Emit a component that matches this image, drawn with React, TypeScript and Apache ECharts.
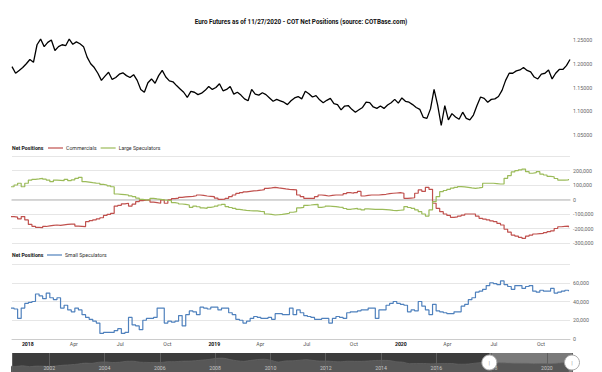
import React, { useEffect, useRef } from "react";
import * as echarts from "echarts";

const TITLE = "Euro Futures as of 11/27/2020 - COT Net Positions (source: COTBase.com)";
const MONTHS = ["Jan", "Feb", "Mar", "Apr", "May", "Jun", "Jul", "Aug", "Sep", "Oct", "Nov", "Dec"];
const FONT = 'Roboto, "Liberation Sans", sans-serif';

// visible window and navigator range [year, monthIndex, day]
const VIEW_START = [2017, 11, 1];
const VIEW_END = [2020, 10, 27];
const NAV_RANGE_START = [2000, 7, 27];
const NAV_RANGE_END = [2020, 10, 27];

// first dates of the series
const PRICE_START = [2017, 11, 1]; // weekly (Fridays)
const COT_START = [2017, 10, 28]; // weekly (Tuesdays, report dates)
const NAV_HISTORY_START = [2000, 6, 15]; // quarterly

// Euro futures price, weekly
const euroFuturesPrice = [
  1.194, 1.180, 1.186, 1.192, 1.200, 1.209, 1.203, 1.240, 1.252, 1.236,
  1.245, 1.250, 1.228, 1.236, 1.240, 1.238, 1.252, 1.241, 1.246, 1.242,
  1.236, 1.214, 1.200, 1.192, 1.180, 1.165, 1.174, 1.182, 1.167, 1.171,
  1.178, 1.181, 1.175, 1.171, 1.177, 1.165, 1.146, 1.140, 1.160, 1.168,
  1.159, 1.175, 1.186, 1.172, 1.164, 1.162, 1.154, 1.147, 1.140, 1.129,
  1.142, 1.140, 1.135, 1.138, 1.144, 1.152, 1.146, 1.150, 1.158, 1.143,
  1.146, 1.152, 1.136, 1.140, 1.134, 1.126, 1.122, 1.146, 1.136, 1.134,
  1.139, 1.135, 1.128, 1.121, 1.125, 1.122, 1.119, 1.114, 1.122, 1.128,
  1.131, 1.126, 1.142, 1.137, 1.130, 1.133, 1.124, 1.118, 1.123, 1.127,
  1.116, 1.114, 1.103, 1.111, 1.112, 1.104, 1.098, 1.103, 1.108, 1.119,
  1.118, 1.109, 1.106, 1.111, 1.106, 1.113, 1.118, 1.125, 1.117, 1.128,
  1.121, 1.119, 1.114, 1.108, 1.104, 1.087, 1.085, 1.105, 1.146, 1.113,
  1.070, 1.112, 1.082, 1.095, 1.088, 1.083, 1.098, 1.085, 1.082, 1.092,
  1.112, 1.130, 1.127, 1.119, 1.125, 1.126, 1.131, 1.144, 1.165, 1.180,
  1.180, 1.185, 1.187, 1.192, 1.186, 1.183, 1.172, 1.168, 1.178, 1.180,
  1.187, 1.168, 1.180, 1.188, 1.188, 1.196, 1.209,
];

// COT net positions, thousands of contracts, weekly
const commercialsK = [
  -118, -122, -134, -118, -141, -172, -185, -192, -194, -186,
  -182, -178, -176, -178, -175, -172, -170, -169, -183, -185,
  -187, -153, -146, -140, -133, -126, -110, -102, -95, -45,
  -40, -30, -26, -45, -32, -15, -8, -5, -3, -18,
  -22, -26, -3, -26, -3, 6, 10, 15, 18, 20,
  22, 26, 31, 28, 24, 22, 20, 10, 1, 3,
  8, 20, 31, 42, 47, 52, 56, 59, 61, 64,
  68, 77, 80, 84, 80, 77, 73, 70, 68, 66,
  31, 20, 8, 8, 8, 20, 31, 28, 24, 28,
  31, 31, 31, 40, 47, 43, 48, 56, 24, 28,
  31, 31, 31, 34, 36, 40, 43, 45, 47, 43,
  8, 10, 12, 43, 66, 56, 84, 70, -26, -61,
  -84, -100, -110, -123, -120, -114, -108, -100, -100, -100,
  -115, -130, -135, -141, -148, -153, -165, -176, -205, -225,
  -245, -252, -261, -268, -252, -245, -238, -235, -233, -228,
  -222, -217, -200, -188, -185, -183, -192,
];

const largeSpeculatorsK = [
  88, 100, 112, 88, 112, 134, 139, 142, 146, 140,
  134, 123, 134, 132, 130, 139, 130, 136, 146, 153,
  123, 120, 116, 113, 112, 104, 100, 94, 88, 38,
  36, 34, 31, 25, 20, 10, 1, -2, -3, 8,
  4, 1, -3, -5, -8, -22, -26, -31, -34, -38,
  -54, -45, -50, -58, -61, -54, -50, -45, -38, -33,
  -49, -55, -61, -68, -72, -75, -77, -78, -79, -82,
  -84, -100, -103, -107, -105, -103, -99, -95, -88, -84,
  -58, -54, -40, -38, -35, -33, -54, -50, -45, -47,
  -49, -52, -54, -62, -68, -64, -61, -66, -72, -65,
  -66, -68, -68, -68, -70, -72, -75, -77, -74, -72,
  -49, -55, -61, -72, -84, -100, -114, -72, -15, 20,
  54, 62, 70, 78, 84, 89, 87, 84, 80, 77,
  80, 84, 112, 112, 112, 110, 107, 107, 146, 165,
  190, 199, 205, 210, 192, 181, 185, 192, 175, 169,
  160, 157, 145, 134, 134, 136, 141,
];

const smallSpeculatorsK = [
  33, 32, 22, 33, 38, 39, 40, 48, 46, 43,
  49, 44, 42, 44, 33, 36, 31, 29, 33, 31,
  26, 23, 21, 19, 17, 6, 7, 7, 7, 9,
  11, 6, 7, 23, 15, 14, 10, 20, 22, 22,
  23, 33, 33, 17, 19, 18, 19, 25, 14, 26,
  30, 29, 26, 34, 33, 32, 34, 34, 31, 33,
  33, 28, 26, 21, 20, 17, 19, 22, 24, 23,
  22, 22, 23, 21, 27, 27, 26, 26, 33, 26,
  31, 28, 25, 24, 23, 21, 21, 22, 22, 17,
  22, 24, 23, 22, 28, 29, 29, 30, 31, 31,
  33, 33, 22, 31, 31, 36, 38, 40, 38, 37,
  36, 29, 31, 30, 40, 35, 31, 26, 37, 30,
  29, 28, 27, 27, 29, 29, 35, 37, 42, 44,
  50, 51, 53, 57, 60, 59, 58, 62, 58, 56,
  53, 57, 57, 54, 56, 57, 51, 50, 52, 51,
  51, 54, 49, 50, 51, 52, 51,
];

// navigator: long-term euro history, quarterly (2000 Q3 .. 2020 Q4)
const euroQuarterlyHistory = [
  0.90, 0.87,
  0.93, 0.85, 0.90, 0.89,
  0.87, 0.92, 0.98, 1.01,
  1.07, 1.15, 1.13, 1.22,
  1.25, 1.20, 1.22, 1.30,
  1.31, 1.23, 1.21, 1.19,
  1.20, 1.27, 1.27, 1.31,
  1.32, 1.35, 1.41, 1.46,
  1.55, 1.57, 1.45, 1.35,
  1.30, 1.38, 1.45, 1.48,
  1.37, 1.24, 1.33, 1.34,
  1.39, 1.44, 1.38, 1.32,
  1.32, 1.28, 1.26, 1.31,
  1.30, 1.30, 1.33, 1.37,
  1.38, 1.37, 1.27, 1.23,
  1.10, 1.11, 1.12, 1.09,
  1.11, 1.12, 1.12, 1.06,
  1.06, 1.11, 1.18, 1.19,
  1.23, 1.17, 1.16, 1.14,
  1.13, 1.13, 1.10, 1.11,
  1.10, 1.12, 1.17, 1.19,
];

const NAV_Y_MIN = 0.4;
const NAV_Y_MAX = 2.0;

const ts = (d: number[]) => new Date(d[0], d[1], d[2]).getTime();
const weekly = (start: number[], vals: number[], scale = 1) =>
  vals.map((v, i) => [new Date(start[0], start[1], start[2] + 7 * i).getTime(), v * scale]);
const quarterly = (start: number[], vals: number[]) =>
  vals.map((v, i) => [new Date(start[0], start[1] + 3 * i, start[2]).getTime(), v]);

const commas = (v: number) => v.toLocaleString("en-US");

function buildOption() {
  const viewMin = ts(VIEW_START);
  const viewMax = ts(VIEW_END);
  const yLabel = {
    show: true,
    align: "left" as const,
    margin: 3,
    fontSize: 5.3,
    color: "#666",
    fontFamily: FONT,
    showMaxLabel: false,
  };
  const gridLine = { show: true, lineStyle: { color: "#e6e6e6", width: 1 } };
  const hiddenX = (gridIndex: number, extra: any = {}) => ({
    type: "time",
    gridIndex,
    min: viewMin,
    max: viewMax,
    axisLabel: { show: false },
    axisTick: { show: false },
    splitLine: { show: false },
    axisLine: { show: false },
    ...extra,
  });

  return {
    animation: false,
    backgroundColor: "#fff",
    textStyle: { fontFamily: FONT },
    title: [
      {
        text: TITLE,
        left: "center",
        top: 19,
        padding: 0,
        textStyle: { fontSize: 6.3, fontWeight: "bold", color: "#111", fontFamily: FONT },
      },
      {
        text: "Net Positions",
        left: 12,
        top: 145.5,
        padding: 0,
        textStyle: { fontSize: 5.2, fontWeight: "bold", color: "#111", fontFamily: FONT },
      },
      {
        text: "Net Positions",
        left: 12,
        top: 252.5,
        padding: 0,
        textStyle: { fontSize: 5.2, fontWeight: "bold", color: "#111", fontFamily: FONT },
      },
    ],
    legend: [
      {
        data: ["Commercials", "Large Speculators"],
        left: 48,
        top: 145.5,
        padding: 0,
        icon: "rect",
        itemWidth: 15,
        itemHeight: 1.2,
        itemGap: 4,
        textStyle: { fontSize: 5.2, color: "#333", fontFamily: FONT, padding: [0, 0, 0, -2] },
      },
      {
        data: ["Small Speculators"],
        left: 47,
        top: 252.5,
        padding: 0,
        icon: "rect",
        itemWidth: 15,
        itemHeight: 1.2,
        itemGap: 4,
        textStyle: { fontSize: 5.2, color: "#333", fontFamily: FONT, padding: [0, 0, 0, -2] },
      },
    ],
    grid: [
      { left: 12, right: 32, top: 16.25, height: 118.75 },
      { left: 12, right: 32, top: 156, height: 87 },
      { left: 12, right: 32, top: 264, height: 75 },
      { left: 12, right: 30, top: 353, height: 19, show: true, backgroundColor: "#3c3c3c", borderWidth: 0 },
    ],
    xAxis: [
      hiddenX(0),
      hiddenX(1, {
        axisLine: { show: true, onZero: true, lineStyle: { color: "#cccccc", width: 1.5 } },
      }),
      {
        type: "time",
        gridIndex: 2,
        min: viewMin,
        max: viewMax,
        splitNumber: 12,
        axisTick: { show: false },
        splitLine: { show: false },
        axisLine: { show: true, onZero: false, lineStyle: { color: "#cccccc", width: 1 } },
        axisLabel: {
          show: true,
          margin: 2.5,
          fontSize: 5.2,
          color: "#555",
          fontFamily: FONT,
          showMinLabel: false,
          showMaxLabel: false,
          hideOverlap: false,
          formatter: (v: number) => {
            const d = new Date(v);
            if (d.getMonth() === 0 && d.getDate() === 1) return "{y|" + d.getFullYear() + "}";
            return MONTHS[d.getMonth()];
          },
          rich: { y: { fontWeight: "bold", color: "#111", fontSize: 5.2, fontFamily: FONT } },
        },
      },
      {
        type: "time",
        gridIndex: 3,
        z: 5,
        min: ts(NAV_RANGE_START),
        max: ts(NAV_RANGE_END),
        splitNumber: 10,
        axisTick: { show: false },
        axisLine: { show: false },
        splitLine: { show: true, lineStyle: { color: "#5e5e5e", width: 1 } },
        axisLabel: {
          show: true,
          inside: true,
          margin: 2,
          fontSize: 5.2,
          color: "#c8c8c8",
          fontFamily: FONT,
          showMinLabel: false,
          showMaxLabel: false,
          formatter: (v: number) => String(new Date(v).getFullYear()),
        },
      },
    ],
    yAxis: [
      {
        type: "value",
        gridIndex: 0,
        position: "right",
        min: 1.05,
        max: 1.3,
        interval: 0.05,
        splitLine: { show: false },
        axisLine: { show: false },
        axisTick: { show: false },
        axisLabel: { ...yLabel, formatter: (v: number) => v.toFixed(5) },
      },
      {
        type: "value",
        gridIndex: 1,
        position: "right",
        min: -300000,
        max: 300000,
        interval: 100000,
        splitLine: gridLine,
        axisLine: { show: false },
        axisTick: { show: false },
        axisLabel: { ...yLabel, formatter: commas },
      },
      {
        type: "value",
        gridIndex: 2,
        position: "right",
        min: 0,
        max: 80000,
        interval: 20000,
        splitLine: gridLine,
        axisLine: { show: false },
        axisTick: { show: false },
        axisLabel: { ...yLabel, formatter: commas },
      },
      {
        type: "value",
        gridIndex: 3,
        min: NAV_Y_MIN,
        max: NAV_Y_MAX,
        show: false,
        splitLine: { show: false },
      },
    ],
    series: [
      {
        name: "Euro Futures",
        type: "line",
        xAxisIndex: 0,
        yAxisIndex: 0,
        data: weekly(PRICE_START, euroFuturesPrice),
        symbol: "none",
        color: "#000",
        lineStyle: { color: "#000", width: 1.3 },
      },
      {
        name: "Commercials",
        type: "line",
        xAxisIndex: 1,
        yAxisIndex: 1,
        step: "end",
        data: weekly(COT_START, commercialsK, 1000),
        symbol: "none",
        color: "#c0504d",
        lineStyle: { color: "#c0504d", width: 1.2 },
      },
      {
        name: "Large Speculators",
        type: "line",
        xAxisIndex: 1,
        yAxisIndex: 1,
        step: "end",
        data: weekly(COT_START, largeSpeculatorsK, 1000),
        symbol: "none",
        color: "#9bbb59",
        lineStyle: { color: "#9bbb59", width: 1.2 },
      },
      {
        name: "Small Speculators",
        type: "line",
        xAxisIndex: 2,
        yAxisIndex: 2,
        step: "end",
        data: weekly(COT_START, smallSpeculatorsK, 1000),
        symbol: "none",
        color: "#4f81bd",
        lineStyle: { color: "#4f81bd", width: 1.2 },
      },
      {
        name: "Navigator",
        type: "line",
        xAxisIndex: 3,
        yAxisIndex: 3,
        z: 1,
        data: quarterly(NAV_HISTORY_START, euroQuarterlyHistory),
        symbol: "none",
        smooth: 0.3,
        silent: true,
        lineStyle: { color: "#6a6a6a", width: 0.6 },
        areaStyle: { color: "#575757", opacity: 1 },
        markArea: {
          silent: true,
          itemStyle: { color: "rgba(255,255,255,0.32)" },
          data: [[{ xAxis: ts(VIEW_START) }, { xAxis: ts(VIEW_END) }]],
        },
        markPoint: {
          silent: true,
          z: 10,
          symbol: "circle",
          symbolSize: 15,
          itemStyle: { color: "#ffffff", borderColor: "#aaaaaa", borderWidth: 1 },
          label: { show: true, position: "inside", formatter: "|", color: "#999", fontSize: 6, fontFamily: FONT },
          data: [
            { coord: [ts(VIEW_START), (NAV_Y_MIN + NAV_Y_MAX) / 2] },
            { coord: [ts(VIEW_END), (NAV_Y_MIN + NAV_Y_MAX) / 2] },
          ],
        },
      },
    ],
  };
}

export default function App() {
  const ref = useRef<HTMLDivElement>(null);
  useEffect(() => {
    if (!ref.current) return;
    const chart = echarts.init(ref.current, null, { renderer: "svg" });
    chart.setOption(buildOption() as any);
    return () => chart.dispose();
  }, []);
  return (
    <div
      ref={ref}
      style={{ position: "absolute", left: 0, top: 0, width: 602, height: 372, background: "#fff" }}
    />
  );
}
